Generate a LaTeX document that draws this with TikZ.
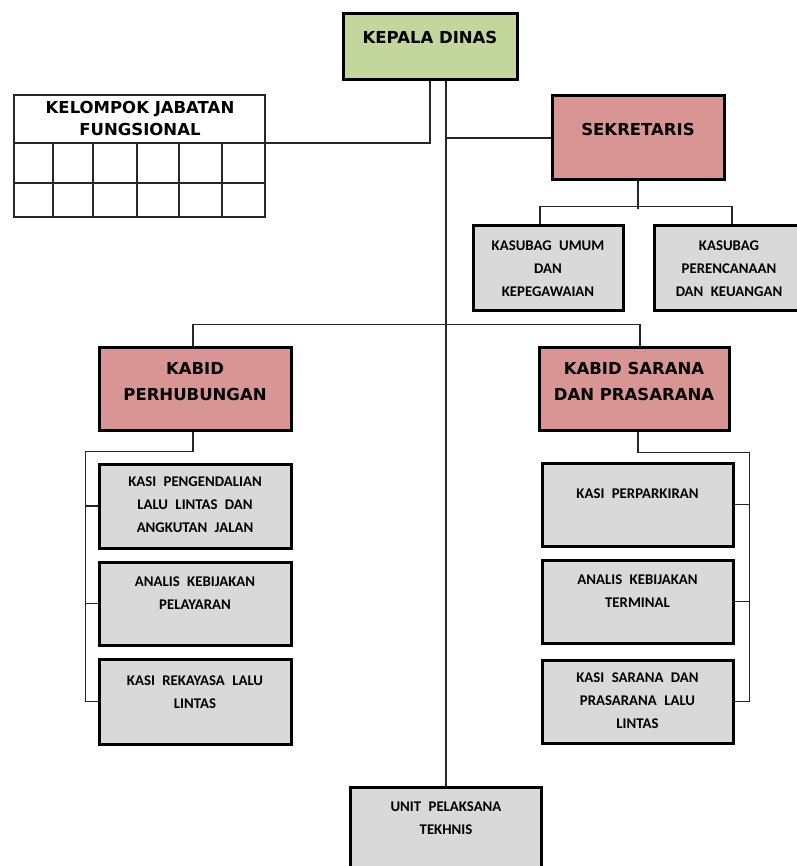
\documentclass[tikz,border=0pt]{standalone}
\usepackage{fontspec}
\newfontfamily\headfont{DejaVu Sans}[BoldFont={DejaVu Sans Bold}]
\newfontfamily\smallfont{Carlito}[WordSpace=2.2]
\definecolor{kdgreen}{HTML}{C3D69B}
\definecolor{kbred}{HTML}{D99594}
\definecolor{boxgray}{HTML}{D9D9D9}
\tikzset{
  box/.style={draw=black, line width=3pt, rectangle, inner sep=0pt},
  conn/.style={draw=black!85, line width=1.8pt},
  grid/.style={draw=black!85, line width=1.8pt},
  head/.style={font=\headfont\bfseries\fontsize{16.5}{26}\selectfont, align=center, anchor=north, inner sep=0pt},
  sub/.style={font=\smallfont\bfseries\fontsize{14.8}{23}\selectfont, align=center, anchor=north, inner sep=0pt},
}
\begin{document}
\begin{tikzpicture}[x=1pt,y=-1pt]
\useasboundingbox (0,0) rectangle (796,866);
% boxes
\node[box, fill=kdgreen, minimum width=174pt, minimum height=66pt] (kd) at (430,47) {};
\node[box, fill=kbred, minimum width=172pt, minimum height=84pt] (sek) at (638,138) {};
\node[box, fill=boxgray, minimum width=150pt, minimum height=84pt] (ku) at (548,268) {};
\node[box, fill=boxgray, minimum width=150pt, minimum height=84pt] (kp) at (729,268) {};
\node[box, fill=kbred, minimum width=192pt, minimum height=83pt] (kb1) at (195,388.5) {};
\node[box, fill=kbred, minimum width=190pt, minimum height=83pt] (kb2) at (634,388.5) {};
\node[box, fill=boxgray, minimum width=192pt, minimum height=84pt] (l1) at (195,506) {};
\node[box, fill=boxgray, minimum width=192pt, minimum height=83pt] (l2) at (195,603.5) {};
\node[box, fill=boxgray, minimum width=192pt, minimum height=85pt] (l3) at (195,701.5) {};
\node[box, fill=boxgray, minimum width=191pt, minimum height=83pt] (r1) at (637.5,504.5) {};
\node[box, fill=boxgray, minimum width=191pt, minimum height=83pt] (r2) at (637.5,601.5) {};
\node[box, fill=boxgray, minimum width=191pt, minimum height=83pt] (r3) at (637.5,701.5) {};
\node[box, fill=boxgray, minimum width=191pt, minimum height=90pt] (upt) at (446,832) {};
% table
\node[draw=black!85, line width=1.8pt, rectangle, inner sep=0pt, minimum width=251pt, minimum height=122pt] (kjf) at (139.5,156) {};
\coordinate (kjfh) at (265,143);
\draw[grid] (14,143) -- (kjfh);
\draw[grid] (14,183) -- (265,183);
\foreach \cx in {53,93,137,179,222} \draw[grid] (\cx,143) -- (\cx,217);
% texts
\node[head] (t-kd) at (430,31) {KEPALA DINAS};
\node[head] (t-kjf) at (140,101) {KELOMPOK JABATAN\\[-4pt]FUNGSIONAL};
\node[head] (t-sek) at (638,123) {SEKRETARIS};
\node[head] (t-kb1) at (195,362) {KABID\\PERHUBUNGAN};
\node[head] (t-kb2) at (634,362) {KABID SARANA\\DAN PRASARANA};
\node[sub] (t-ku) at (548,241) {KASUBAG UMUM\\DAN\\KEPEGAWAIAN};
\node[sub] (t-kp) at (729,241) {KASUBAG\\PERENCANAAN\\DAN KEUANGAN};
\node[sub] (t-l1) at (195,477) {KASI PENGENDALIAN\\LALU LINTAS DAN\\ANGKUTAN JALAN};
\node[sub] (t-l2) at (195,577) {ANALIS KEBIJAKAN\\PELAYARAN};
\node[sub] (t-l3) at (195,676) {KASI REKAYASA LALU\\LINTAS};
\node[sub] (t-r1) at (637.5,489) {KASI PERPARKIRAN};
\node[sub] (t-r2) at (637.5,575) {ANALIS KEBIJAKAN\\TERMINAL};
\node[sub] (t-r3) at (637.5,673) {KASI SARANA DAN\\PRASARANA LALU\\LINTAS};
\node[sub] (t-upt) at (446,802) {UNIT PELAKSANA\\TEKHNIS};
% connectors
\draw[conn] (kd.south) |- (kjfh);
\draw[conn] ([xshift=16pt]kd.south) -- (upt.north);
\draw[conn] (sek.west) -- (sek.west -| upt.north);
\draw[conn] (sek.south) -- ++(0,28);
\draw[conn] ([xshift=-8pt]ku.north) -- ++(0,-18) -| ([xshift=3pt]kp.north);
\draw[conn] ([xshift=-2pt]kb1.north) -- ++(0,-21) -| ([xshift=6pt]kb2.north);
\draw[conn] ([xshift=-2pt]kb1.south) -- ++(0,20) -| ([xshift=-12pt]l3.west);
\draw[conn] (l1.west) -- ++(-12,0);
\draw[conn] (l2.west) -- ++(-12,0);
\draw[conn] (l3.west) -- ++(-12,0);
\draw[conn] ([xshift=4pt]kb2.south) -- ++(0,21) -| ([xshift=15pt]r3.east);
\draw[conn] (r1.east) -- ++(15,0);
\draw[conn] (r2.east) -- ++(15,0);
\draw[conn] (r3.east) -- ++(15,0);
\end{tikzpicture}
\end{document}
